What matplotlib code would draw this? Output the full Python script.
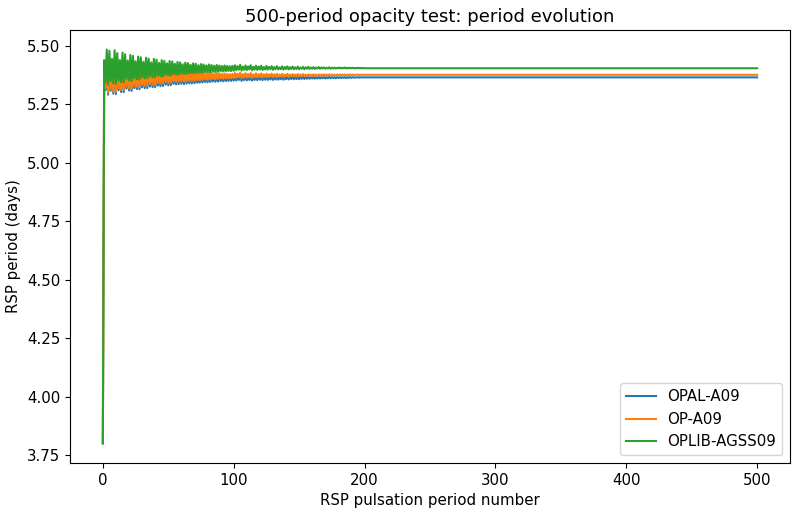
import matplotlib
matplotlib.use("Agg")
import matplotlib.pyplot as plt

plt.rcParams["font.size"] = 10.8

# pulsation period numbers: every period up to 200, then a flat tail
PERIODS = list(range(0, 201)) + [250, 300, 400, 500]

OPAL_A09 = [
    3.800, 5.325, 5.312, 5.432, 5.292, 5.426, 5.309, 5.396, 5.296, 5.431,
    5.295, 5.419, 5.311, 5.391, 5.303, 5.420, 5.303, 5.414, 5.318, 5.388,
    5.310, 5.410, 5.308, 5.407, 5.320, 5.386, 5.316, 5.404, 5.315, 5.402,
    5.323, 5.384, 5.320, 5.400, 5.320, 5.397, 5.327, 5.382, 5.324, 5.395,
    5.324, 5.393, 5.331, 5.381, 5.328, 5.391, 5.329, 5.389, 5.335, 5.379,
    5.332, 5.388, 5.333, 5.386, 5.338, 5.378, 5.336, 5.384, 5.337, 5.383,
    5.339, 5.376, 5.337, 5.381, 5.339, 5.380, 5.341, 5.374, 5.340, 5.379,
    5.341, 5.378, 5.343, 5.373, 5.343, 5.377, 5.344, 5.375, 5.346, 5.372,
    5.345, 5.375, 5.346, 5.374, 5.348, 5.371, 5.347, 5.373, 5.348, 5.372,
    5.350, 5.370, 5.349, 5.371, 5.350, 5.370, 5.351, 5.369, 5.351, 5.370,
    5.352,
    5.374, 5.352, 5.371, 5.355, 5.375, 5.351, 5.369, 5.354, 5.373, 5.353,
    5.370, 5.355, 5.374, 5.352, 5.368, 5.355, 5.372, 5.354, 5.369, 5.356,
    5.372, 5.354, 5.368, 5.356, 5.371, 5.355, 5.368, 5.357, 5.371, 5.355,
    5.368, 5.357, 5.370, 5.356, 5.367, 5.358, 5.370, 5.356, 5.367, 5.358,
    5.370, 5.357, 5.367, 5.359, 5.369, 5.358, 5.367, 5.359, 5.369, 5.358,
    5.367, 5.360, 5.369, 5.359, 5.367, 5.360, 5.368, 5.360, 5.367, 5.361,
    5.368, 5.360, 5.367, 5.361, 5.368, 5.361, 5.367, 5.362, 5.368, 5.361,
    5.367, 5.362, 5.368, 5.362, 5.367, 5.363, 5.367, 5.362, 5.367, 5.363,
    5.367, 5.363, 5.367, 5.364, 5.367, 5.363, 5.367, 5.364, 5.367, 5.364,
    5.367, 5.365, 5.366, 5.365, 5.367, 5.365, 5.366, 5.366, 5.366, 5.366,
    5.366, 5.366, 5.366, 5.366,
]

OP_A09 = [
    3.800, 5.330, 5.320, 5.440, 5.300, 5.435, 5.318, 5.405, 5.305, 5.440,
    5.304, 5.428, 5.320, 5.400, 5.312, 5.430, 5.312, 5.424, 5.328, 5.398,
    5.320, 5.420, 5.318, 5.418, 5.330, 5.396, 5.326, 5.415, 5.325, 5.413,
    5.334, 5.395, 5.330, 5.411, 5.331, 5.408, 5.338, 5.393, 5.335, 5.406,
    5.335, 5.404, 5.342, 5.392, 5.339, 5.402, 5.340, 5.400, 5.346, 5.390,
    5.343, 5.399, 5.344, 5.397, 5.349, 5.389, 5.347, 5.395, 5.348, 5.394,
    5.350, 5.387, 5.348, 5.392, 5.350, 5.391, 5.352, 5.385, 5.351, 5.390,
    5.352, 5.389, 5.354, 5.384, 5.354, 5.388, 5.355, 5.386, 5.357, 5.383,
    5.356, 5.386, 5.357, 5.385, 5.359, 5.382, 5.358, 5.384, 5.359, 5.383,
    5.361, 5.381, 5.360, 5.382, 5.361, 5.381, 5.362, 5.380, 5.362, 5.381,
    5.363,
    5.385, 5.364, 5.382, 5.367, 5.386, 5.363, 5.380, 5.366, 5.384, 5.365,
    5.381, 5.367, 5.385, 5.364, 5.379, 5.367, 5.383, 5.366, 5.380, 5.368,
    5.383, 5.366, 5.379, 5.368, 5.382, 5.367, 5.379, 5.369, 5.382, 5.367,
    5.379, 5.369, 5.381, 5.368, 5.378, 5.370, 5.381, 5.368, 5.378, 5.370,
    5.381, 5.369, 5.378, 5.371, 5.380, 5.370, 5.378, 5.371, 5.380, 5.370,
    5.378, 5.372, 5.380, 5.371, 5.378, 5.372, 5.379, 5.372, 5.378, 5.373,
    5.379, 5.372, 5.378, 5.373, 5.379, 5.373, 5.378, 5.374, 5.379, 5.373,
    5.378, 5.374, 5.379, 5.374, 5.378, 5.375, 5.378, 5.374, 5.378, 5.375,
    5.378, 5.375, 5.378, 5.376, 5.378, 5.375, 5.378, 5.376, 5.378, 5.376,
    5.378, 5.376, 5.377, 5.377, 5.378, 5.376, 5.377, 5.377, 5.377, 5.377,
    5.377, 5.377, 5.377, 5.377,
]

OPLIB_AGSS09 = [
    3.800, 5.440, 5.345, 5.485, 5.335, 5.480, 5.350, 5.445, 5.340, 5.482,
    5.338, 5.470, 5.352, 5.440, 5.345, 5.472, 5.345, 5.465, 5.360, 5.438,
    5.352, 5.462, 5.350, 5.458, 5.362, 5.435, 5.358, 5.455, 5.356, 5.452,
    5.366, 5.432, 5.362, 5.450, 5.362, 5.446, 5.370, 5.430, 5.366, 5.445,
    5.366, 5.442, 5.374, 5.428, 5.370, 5.440, 5.370, 5.437, 5.377, 5.426,
    5.374, 5.436, 5.374, 5.434, 5.380, 5.424, 5.377, 5.432, 5.378, 5.430,
    5.382, 5.422, 5.380, 5.429, 5.381, 5.427, 5.384, 5.420, 5.383, 5.426,
    5.384, 5.424, 5.386, 5.418, 5.385, 5.423, 5.386, 5.421, 5.388, 5.417,
    5.387, 5.421, 5.388, 5.419, 5.390, 5.416, 5.389, 5.419, 5.390, 5.417,
    5.392, 5.415, 5.391, 5.417, 5.392, 5.415, 5.393, 5.414, 5.393, 5.415,
    5.394,
    5.418, 5.396, 5.414, 5.399, 5.420, 5.395, 5.412, 5.398, 5.417, 5.397,
    5.413, 5.400, 5.418, 5.396, 5.411, 5.399, 5.416, 5.398, 5.412, 5.400,
    5.416, 5.397, 5.410, 5.400, 5.415, 5.399, 5.411, 5.401, 5.414, 5.398,
    5.410, 5.401, 5.414, 5.400, 5.409, 5.401, 5.413, 5.399, 5.410, 5.402,
    5.413, 5.400, 5.409, 5.402, 5.412, 5.401, 5.409, 5.402, 5.412, 5.401,
    5.408, 5.403, 5.411, 5.401, 5.409, 5.403, 5.411, 5.402, 5.408, 5.403,
    5.410, 5.402, 5.408, 5.404, 5.410, 5.403, 5.408, 5.404, 5.409, 5.403,
    5.407, 5.404, 5.409, 5.403, 5.407, 5.404, 5.408, 5.404, 5.407, 5.405,
    5.408, 5.404, 5.407, 5.405, 5.408, 5.404, 5.407, 5.405, 5.407, 5.405,
    5.407, 5.405, 5.406, 5.405, 5.407, 5.405, 5.406, 5.405, 5.406, 5.405,
    5.405, 5.405, 5.405, 5.405,
]

LABELS = ["OPAL-A09", "OP-A09", "OPLIB-AGSS09"]

fig, ax = plt.subplots(figsize=(7.97, 5.15), dpi=100)
fig.subplots_adjust(left=0.088, right=0.991, bottom=0.101, top=0.942)

for series, label in zip([OPAL_A09, OP_A09, OPLIB_AGSS09], LABELS):
    ax.plot(PERIODS, series, label=label, linewidth=1.5)

ax.set_xlabel("RSP pulsation period number")
ax.set_ylabel("RSP period (days)")
ax.set_title("500-period opacity test: period evolution")
ax.yaxis.set_major_formatter(matplotlib.ticker.FormatStrFormatter("%.2f"))
ax.legend(loc="lower right")

fig.savefig("out.png", dpi=100)
